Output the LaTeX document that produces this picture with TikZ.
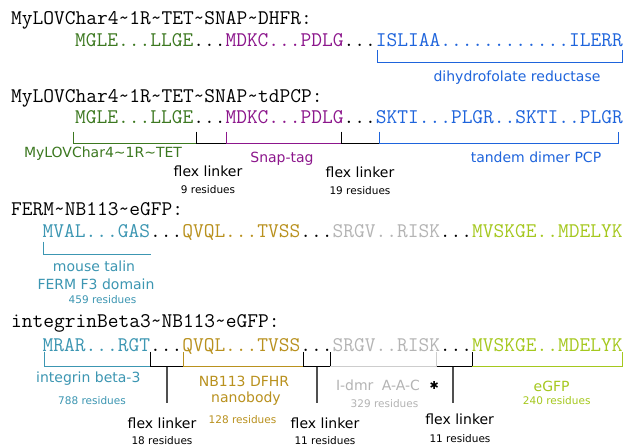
\documentclass[tikz,border=0pt]{standalone}
\usepackage{fontspec}
\setmainfont{DejaVu Sans}
\newcommand\mytl{\textasciitilde}
\definecolor{cgreen}{RGB}{60,120,32}
\definecolor{cpurple}{RGB}{140,22,140}
\definecolor{cblue}{RGB}{30,100,220}
\definecolor{cteal}{RGB}{60,150,178}
\definecolor{cgold}{RGB}{185,145,30}
\definecolor{cgray}{RGB}{180,180,180}
\definecolor{cgrayline}{RGB}{205,205,205}
\definecolor{clime}{RGB}{165,200,30}
\definecolor{cleader}{RGB}{80,80,80}
\tikzset{
  title/.style={anchor=base west,inner sep=0pt,font=\ttfamily\fontsize{20.85}{22}\selectfont},
  seq/.style={anchor=base west,inner sep=0pt,font=\ttfamily\fontsize{20.85}{22}\selectfont},
  lab/.style={inner sep=0pt,font=\fontsize{14}{16}\selectfont},
  small/.style={inner sep=0pt,font=\fontsize{10.5}{12}\selectfont},
  brk/.style={line width=1pt},
  leader/.style={line width=1.6pt,cleader}
}
\begin{document}
\begin{tikzpicture}[x=1pt,y=-1pt]
\fill[white] (0,0) rectangle (624,446);
\useasboundingbox (0,0) rectangle (624,446);

% Row 1
\node[title] (t1) at (11,25) {MyLOVChar4\mytl 1R\mytl TET\mytl SNAP\mytl DHFR:};
\node[seq] (s1) at (75,46.5) {\textcolor{cgreen}{MGLE...LLGE}...\textcolor{cpurple}{MDKC...PDLG}...\textcolor{cblue}{ISLIAA............ILERR}};
\draw[brk,cblue] (377.7,50) -- (377.7,62.7) -- (622.7,62.7) -- (622.7,50);
\node[lab,text=cblue] (l1) at (517,78) {dihydrofolate reductase};

% Row 2
\node[title] (t2) at (11,102.5) {MyLOVChar4\mytl 1R\mytl TET\mytl SNAP\mytl tdPCP:};
\node[seq] (s2) at (75,124) {\textcolor{cgreen}{MGLE...LLGE}...\textcolor{cpurple}{MDKC...PDLG}...\textcolor{cblue}{SKTI...PLGR..SKTI..PLGR}};
\draw[brk,cgreen] (73.3,131.7) -- (73.3,143.3) -- (196.7,143.3);
\draw[brk,black] (196.7,131.7) -- (196.7,143.3) -- (226,143.3);
\draw[brk,cpurple] (226,131.7) -- (226,143.3) -- (341,143.3);
\draw[brk,black] (341,131.7) -- (341,143.3) -- (379.3,143.3);
\draw[brk,cblue] (379.3,131.7) -- (379.3,143.3) -- (618.7,143.3) -- (618.7,131.7);
\node[lab,text=cgreen] (l2a) at (103,154) {MyLOVChar4\mytl 1R\mytl TET};
\node[lab] (l2b) at (208,171) {flex linker};
\node[small] (l2c) at (208,190) {9 residues};
\node[lab,text=cpurple] (l2d) at (282,159) {Snap-tag};
\node[lab] (l2e) at (360,172) {flex linker};
\node[small] (l2f) at (360,191) {19 residues};
\node[lab,text=cblue] (l2g) at (536,157) {tandem dimer PCP};

% Row 3
\node[title] (t3) at (11,215.5) {FERM\mytl NB113\mytl eGFP:};
\node[seq] (s3) at (42.5,238) {\textcolor{cteal}{MVAL...GAS}...\textcolor{cgold}{QVQL...TVSS}...\textcolor{cgray}{SRGV..RISK}...\textcolor{clime}{MVSKGE..MDELYK}};
\draw[brk,cteal] (43.3,241.7) -- (43.3,254.3) -- (151,254.3);
\node[lab,text=cteal] (l3a) at (94,266) {mouse talin};
\node[lab,text=cteal] (l3b) at (96,284) {FERM F3 domain};
\node[small,text=cteal] (l3c) at (102.5,300) {459 residues};

% Row 4
\node[title] (t4) at (11,328) {integrinBeta3\mytl NB113\mytl eGFP:};
\node[seq] (s4) at (42.5,351.5) {\textcolor{cteal}{MRAR...RGT}...\textcolor{cgold}{QVQL...TVSS}...\textcolor{cgray}{SRGV..RISK}...\textcolor{clime}{MVSKGE..MDELYK}};
\draw[brk,cteal] (44,351.7) -- (44,366.7) -- (150,366.7);
\draw[brk,black] (150,351.7) -- (150,366.7) -- (183.3,366.7);
\draw[brk,cgold] (183.3,351.7) -- (183.3,366.7) -- (303.3,366.7);
\draw[brk,black] (303.3,351.7) -- (303.3,366.7) -- (330,366.7) -- (330,351.7);
\draw[brk,cgrayline] (330,366.7) -- (436.7,366.7) -- (436.7,351.7);
\draw[brk,black] (436.7,366.7) -- (472.3,366.7) -- (472.3,351.7);
\draw[brk,clime] (472.3,366.7) -- (622.7,366.7) -- (622.7,351.7);
\coordinate (f1top) at (166.7,366.7);
\coordinate (f1bot) at (166.7,403.3);
\coordinate (f2top) at (316.7,366.7);
\coordinate (f2bot) at (316.7,403.3);
\coordinate (f3top) at (453,366.7);
\coordinate (f3bot) at (453,403.3);
\draw[leader] (f1top) -- (f1bot);
\draw[leader] (f2top) -- (f2bot);
\draw[leader] (f3top) -- (f3bot);
\node[lab,text=cteal] (l4a) at (88.3,378.3) {integrin beta-3};
\node[small,text=cteal] (l4b) at (92,400.7) {788 residues};
\node[lab,text=cgold] (l4c) at (244,381) {NB113 DFHR};
\node[lab,text=cgold] (l4d) at (246,399) {nanobody};
\node[small,text=cgold] (l4e) at (242.5,420) {128 residues};
\node[lab] (l4f) at (162,423.3) {flex linker};
\node[small] (l4g) at (162,441) {18 residues};
\node[lab] (l4h) at (325,423.3) {flex linker};
\node[small] (l4i) at (325,441) {11 residues};
\node[lab,text=cgray] (l4j) at (378,385) {I-dmr\hspace{0.6em}A-A-C};
\node[inner sep=0pt,font=\fontsize{11}{12}\selectfont] (l4k) at (434.3,385) {✱};
\node[small,text=cgray] (l4l) at (384.5,404) {329 residues};
\node[lab] (l4m) at (459.7,419.3) {flex linker};
\node[small] (l4n) at (460,438.3) {11 residues};
\node[lab,text=clime] (l4o) at (551.7,386.7) {eGFP};
\node[small,text=clime] (l4p) at (556.7,400.7) {240 residues};
\end{tikzpicture}
\end{document}
